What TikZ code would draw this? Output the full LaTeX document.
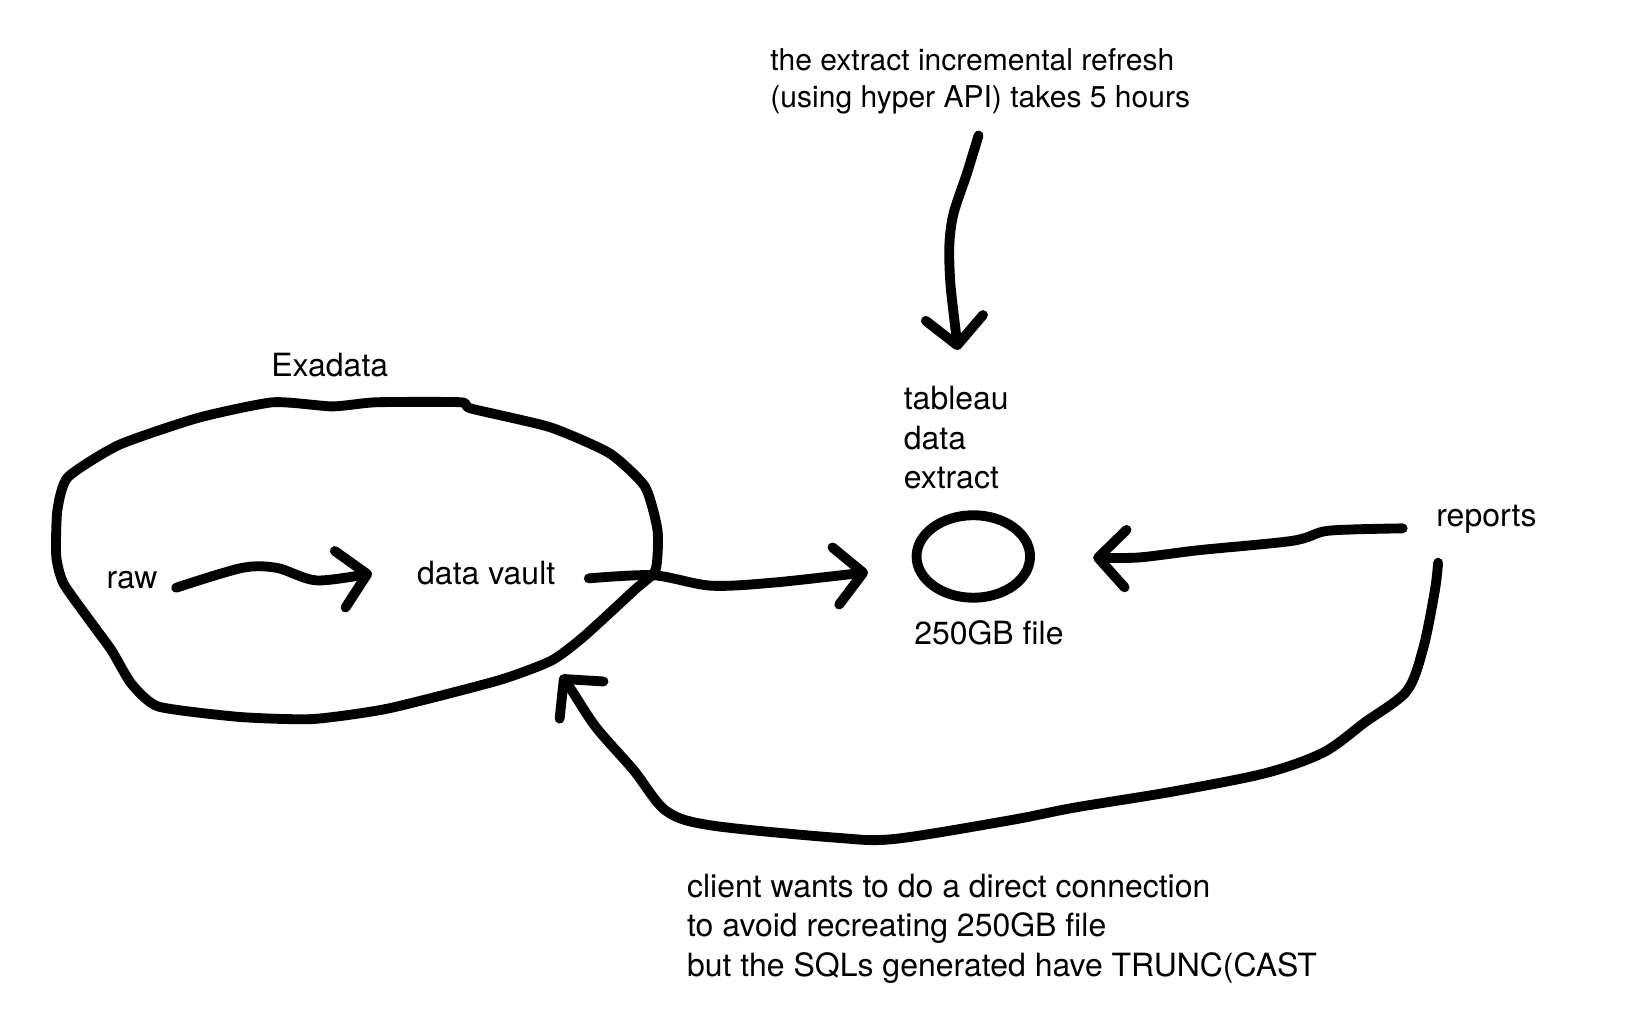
\documentclass[tikz,border=0pt]{standalone}
\usepackage{fontspec}
\setmainfont{TeX Gyre Heros}
\usetikzlibrary{arrows.meta,shapes.geometric}
\tikzset{
sketch/.style={line width=5.6pt, line cap=round, line join=round},
barb/.style={-{Straight Barb[length=0.55cm, width=1.15cm, round]}},
note/.style={inner sep=0pt, anchor=west, align=left, font=\fontsize{18.2}{22.5}\selectfont}
}
\begin{document}
\begin{tikzpicture}[x=0.02084cm, y=-0.02084cm]
\useasboundingbox (0,0) rectangle (1568,986.5);
\node[note, font=\fontsize{17.1}{21.3}\selectfont] (extractnote) at (739,78) {the extract incremental refresh\\(using hyper API) takes 5 hours};
\node[note] (exadata) at (260,350) {Exadata};
\node[note] (tde) at (867,420) {tableau\\data\\extract};
\node[note] (raw) at (102,557) {raw};
\node[note] (vault) at (400,550) {data vault};
\node[note] (reports) at (1378,498) {reports};
\node[note] (size) at (877,607) {250GB file};
\node[note] (client) at (659,891) {client wants to do a direct connection\\to avoid recreating 250GB file\\but the SQLs generated have TRUNC(CAST};
\node[sketch, draw, ellipse, inner sep=0pt, minimum width=2.27cm, minimum height=1.65cm] (file) at (934,534) {};
\draw[sketch] plot[smooth cycle, tension=0.35] coordinates {(65,458) (114,427) (190,401) (262,386) (319,390) (361,386) (442,386) (452,392) (528,410) (585,435) (619,467) (631,509) (629,547) (609,566) (560,611) (529,634) (478,653) (372,680) (300,690) (230,688) (152,678) (126,656) (107,624) (88,598) (61,560) (54,534) (55,490)};
\coordinate (rawout) at (169,564);
\coordinate (vaultin) at (357,550);
\coordinate (vaultout) at (565,555);
\coordinate (filein) at (833,549);
\coordinate (noteout) at (939,130);
\coordinate (tdein) at (919,336);
\coordinate (reportsout) at (1346,507);
\coordinate (fileright) at (1049,535);
\coordinate (reportsdown) at (1380,540);
\coordinate (vaultback) at (538,648);
\draw[sketch, barb] plot[smooth, tension=0.5] coordinates {(rawout) (232,545) (266,545) (304,557) (vaultin)};
\draw[sketch, barb] plot[smooth, tension=0.5] coordinates {(vaultout) (627,552) (682,562) (743,559) (filein)};
\draw[sketch, barb] plot[smooth, tension=0.5] coordinates {(noteout) (928,166) (915,205) (911,235) (912,272) (917,317) (tdein)};
\draw[sketch, barb] plot[smooth, tension=0.5] coordinates {(reportsout) (1300,508) (1270,510) (1240,519) (1150,528) (1092,535) (fileright)};
\draw[sketch, barb] plot[smooth, tension=0.5] coordinates {(reportsdown) (1377,566) (1366,621) (1350,663) (1310,693) (1270,722) (1214,742) (1123,760) (1031,775) (970,787) (859,805) (804,804) (682,792) (639,778) (608,739) (572,698) (547,660) (vaultback)};
\end{tikzpicture}
\end{document}
